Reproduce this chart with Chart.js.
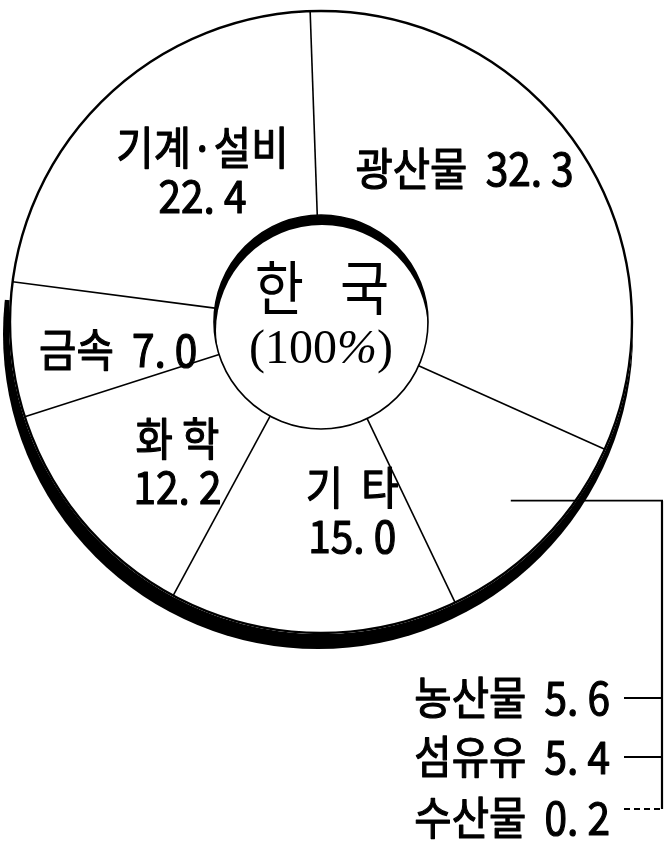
<!DOCTYPE html>
<html><head><meta charset="utf-8">
<script src="https://cdn.jsdelivr.net/npm/chart.js@4.4.1/dist/chart.umd.min.js"></script>
<style>html,body{margin:0;padding:0;background:#fff;overflow:hidden}canvas{display:block}</style>
</head><body>
<canvas id="c" width="664" height="843"></canvas>
<script>
// ---- data ----
const categories = ['광산물', '농산물', '섬유유', '수산물', '기타', '화학', '금속', '기계·설비'];
const shares = [32.3, 5.6, 5.4, 0.2, 15.0, 12.2, 7.0, 22.4];
const bracketed = ['농산물', '섬유유', '수산물'];
const displayNames = {'기타': '기  타', '화학': '화 학'};
const centerTitle = '한   국';
const centerTotal = ['(100', '%', ')'];

// ---- layout (positions relative to chart centre, in units of outer radius) ----
const labelLayout = {
  '광산물':   {dx: 0.46,  dy: -0.49, split: false},
  '기계·설비': {dx: -0.38, dy: -0.48, split: true},
  '금속':     {dx: -0.65, dy: 0.09,  split: false},
  '화학':     {dx: -0.46, dy: 0.45,  split: true},
  '기타':     {dx: 0.10,  dy: 0.61,  split: true}
};
const bracketRows = [698, 757, 818];
const bracketTextRight = 610;

const FONT = '"Noto Sans CJK KR", "Noto Sans", sans-serif';
function fmt(v) { return v.toFixed(1).replace('.', '. '); }

function drawLine(ctx, x1, y1, x2, y2, w) {
  ctx.beginPath(); ctx.moveTo(x1, y1); ctx.lineTo(x2, y2);
  ctx.lineWidth = w; ctx.strokeStyle = '#000'; ctx.stroke();
}
function text(ctx, s, x, y, size, align, stroke) {
  ctx.save();
  ctx.font = '400 ' + size + 'px ' + FONT;
  ctx.fillStyle = '#000'; ctx.strokeStyle = '#000';
  ctx.textAlign = align || 'center';
  ctx.textBaseline = 'middle';
  ctx.translate(x, y); ctx.scale(0.99, 1.1);
  ctx.fillText(s, 0, 0);
  if (stroke) { ctx.lineWidth = stroke; ctx.lineJoin = 'round'; ctx.strokeText(s, 0, 0); }
  ctx.restore();
}

const ringStyle = {
  id: 'ringStyle',
  beforeDatasetsDraw(chart) {
    const a = chart.getDatasetMeta(0).data[0];
    const ctx = chart.ctx, R = a.outerRadius;
    ctx.save();
    ctx.beginPath();
    ctx.moveTo(a.x, a.y);
    ctx.arc(a.x, a.y, R + 40, (92 - 90) * Math.PI / 180, (274 - 90) * Math.PI / 180);
    ctx.closePath();
    ctx.clip();
    ctx.fillStyle = '#000';
    ctx.beginPath(); ctx.arc(a.x - 3, a.y + 12, R + 3, 0, Math.PI * 2); ctx.fill();
    ctx.restore();
    ctx.save();
    ctx.fillStyle = '#fff';
    ctx.beginPath(); ctx.arc(a.x, a.y, R, 0, Math.PI * 2); ctx.fill();
    ctx.restore();
  },
  afterDatasetsDraw(chart) {
    const meta = chart.getDatasetMeta(0);
    const ctx = chart.ctx;
    const a0 = meta.data[0];
    const x = a0.x, y = a0.y, R = a0.outerRadius, r = a0.innerRadius;
    ctx.save();
    ctx.beginPath(); ctx.arc(x, y, R - 1, 0, Math.PI * 2);
    ctx.lineWidth = 2.4; ctx.strokeStyle = '#000'; ctx.stroke();
    meta.data.forEach((arc, i) => {
      const prev = categories[(i - 1 + categories.length) % categories.length];
      if (bracketed.includes(categories[i]) && bracketed.includes(prev)) return;
      const t = arc.startAngle;
      drawLine(ctx, x + r * Math.cos(t), y + r * Math.sin(t), x + (R - 1) * Math.cos(t), y + (R - 1) * Math.sin(t), 1.6);
    });
    ctx.save();
    ctx.beginPath(); ctx.arc(x, y, r, 0, Math.PI * 2); ctx.clip();
    ctx.fillStyle = '#000'; ctx.fill();
    ctx.fillStyle = '#fff';
    ctx.beginPath(); ctx.arc(x + 1, y + 9, r - 1, 0, Math.PI * 2); ctx.fill();
    ctx.restore();
    ctx.beginPath(); ctx.arc(x, y, r, 0, Math.PI * 2);
    ctx.lineWidth = 1.6; ctx.stroke();
    ctx.restore();
  },
  afterDraw(chart) {
    const meta = chart.getDatasetMeta(0);
    const ctx = chart.ctx;
    const a0 = meta.data[0];
    const x = a0.x, y = a0.y, R = a0.outerRadius;
    categories.forEach((c, i) => {
      const L = labelLayout[c];
      if (!L) return;
      const name = displayNames[c] || c;
      const lx = x + L.dx * R, ly = y + L.dy * R;
      if (L.split) {
        text(ctx, name, lx, ly - 24, 41, 'center', 1.1);
        text(ctx, fmt(shares[i]), lx, ly + 24, 41, 'center', 1.1);
      } else {
        text(ctx, name + '  ' + fmt(shares[i]), lx, ly, 41, 'center', 1.1);
      }
    });
    // centre
    text(ctx, centerTitle, x + 1, y - 0.11 * R, 54, 'center', 0);
    ctx.save();
    ctx.fillStyle = '#000'; ctx.textBaseline = 'middle'; ctx.textAlign = 'left';
    const fN = '48px "Liberation Serif", serif', fI = 'italic 48px "Liberation Serif", serif';
    ctx.font = fN; const w0 = ctx.measureText(centerTotal[0]).width, w2 = ctx.measureText(centerTotal[2]).width;
    ctx.font = fI; const w1 = ctx.measureText(centerTotal[1]).width;
    let sx = x - (w0 + w1 + w2) / 2;
    const cy = y + 0.09 * R;
    ctx.font = fN; ctx.fillText(centerTotal[0], sx, cy); sx += w0;
    ctx.font = fI; ctx.fillText(centerTotal[1], sx, cy); sx += w1;
    ctx.font = fN; ctx.fillText(centerTotal[2], sx, cy);
    ctx.restore();
    // bracket
    const idx = bracketed.map(n => categories.indexOf(n));
    const sa = meta.data[idx[0]].startAngle, ea = meta.data[idx[idx.length - 1]].endAngle;
    const mid = (sa + ea) / 2;
    const px = x + 0.85 * R * Math.cos(mid), py = y + 0.82 * R * Math.sin(mid);
    const vx = chart.width - 2;
    ctx.save();
    drawLine(ctx, px, py, vx + 1, py, 1.8);
    drawLine(ctx, vx, py, vx, bracketRows[bracketRows.length - 1] - 9, 2.2);
    idx.forEach((k, j) => {
      const ry = bracketRows[j];
      text(ctx, categories[k] + '  ' + fmt(shares[k]), bracketTextRight, ry, 41, 'right', 1.1);
      const ly = j === idx.length - 1 ? ry - 9 : ry;
      if (j === idx.length - 1) ctx.setLineDash([6, 4]);
      drawLine(ctx, bracketTextRight + 14, ly, vx, ly, 1.8);
      ctx.setLineDash([]);
    });
    ctx.restore();
  }
};

new Chart(document.getElementById('c').getContext('2d'), {
  type: 'doughnut',
  data: {
    labels: categories,
    datasets: [{data: shares, backgroundColor: '#fff', borderWidth: 0, hoverOffset: 0, offset: 0}]
  },
  options: {
    responsive: false,
    animation: false,
    events: [],
    rotation: -2,
    radius: 312,
    cutout: 107,
    layout: {padding: {left: 9, right: 31, top: 10, bottom: 209}},
    plugins: {legend: {display: false}, tooltip: {enabled: false}}
  },
  plugins: [ringStyle]
});
</script>
</body></html>
